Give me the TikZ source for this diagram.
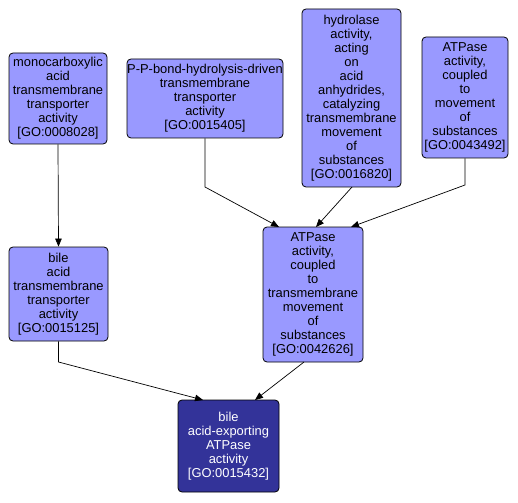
\documentclass[tikz,border=0pt]{standalone}
\usepackage{fontspec}
\setmainfont{Liberation Sans}
\usetikzlibrary{arrows.meta}
\definecolor{lightgo}{HTML}{9999FF}
\definecolor{darkgo}{HTML}{333399}
\begin{document}
\begin{tikzpicture}[x=1pt,y=-1pt,
  goterm/.style={draw=black, line width=0.8pt, rounded corners=4pt, fill=lightgo,
    align=center, inner sep=0pt, font=\fontsize{12.9}{14}\selectfont, text=black},
  goleaf/.style={goterm, fill=darkgo, text=white},
  edge/.style={draw=black, line width=0.7pt, -{Triangle[length=8pt,width=6.5pt]}}]
\useasboundingbox (0,0) rectangle (518,502);
\fill[white] (0,0) rectangle (518,502);
\node[goterm, minimum width=98pt, minimum height=91pt] (n1) at (58,98.5)
  {monocarboxylic\\acid\\transmembrane\\transporter\\activity\\{[}GO:0008028{]}};
\node[goterm, minimum width=156pt, minimum height=79pt] (n2) at (205,98.5)
  {P-P-bond-hydrolysis-driven\\transmembrane\\transporter\\activity\\{[}GO:0015405{]}};
\node[goterm, minimum width=99pt, minimum height=178pt] (n3) at (351.5,98)
  {hydrolase\\activity,\\acting\\on\\acid\\anhydrides,\\catalyzing\\transmembrane\\movement\\of\\substances\\{[}GO:0016820{]}};
\node[goterm, minimum width=86pt, minimum height=121pt] (n4) at (465,97.5)
  {ATPase\\activity,\\coupled\\to\\movement\\of\\substances\\{[}GO:0043492{]}};
\node[goterm, minimum width=99pt, minimum height=94pt] (n5) at (58.5,294)
  {bile\\acid\\transmembrane\\transporter\\activity\\{[}GO:0015125{]}};
\node[goterm, minimum width=100pt, minimum height=135pt] (n6) at (313,294.5)
  {ATPase\\activity,\\coupled\\to\\transmembrane\\movement\\of\\substances\\{[}GO:0042626{]}};
\node[goleaf, minimum width=101pt, minimum height=92pt] (n7) at (228.5,446)
  {bile\\acid-exporting\\ATPase\\activity\\{[}GO:0015432{]}};
\coordinate (b2) at (205,187);
\coordinate (b4) at (465,185);
\coordinate (b5) at (58.5,362);
\draw[edge] (n1.south) -- (n5.north);
\draw[edge] (n2.south) -- (b2) -- (279,227);
\draw[edge] (352,187) -- (316,227);
\draw[edge] (n4.south) -- (b4) -- (351,227);
\draw[edge] (n5.south) -- (b5) -- (203,400);
\draw[edge] (304,362) -- (255,400);
\end{tikzpicture}
\end{document}
